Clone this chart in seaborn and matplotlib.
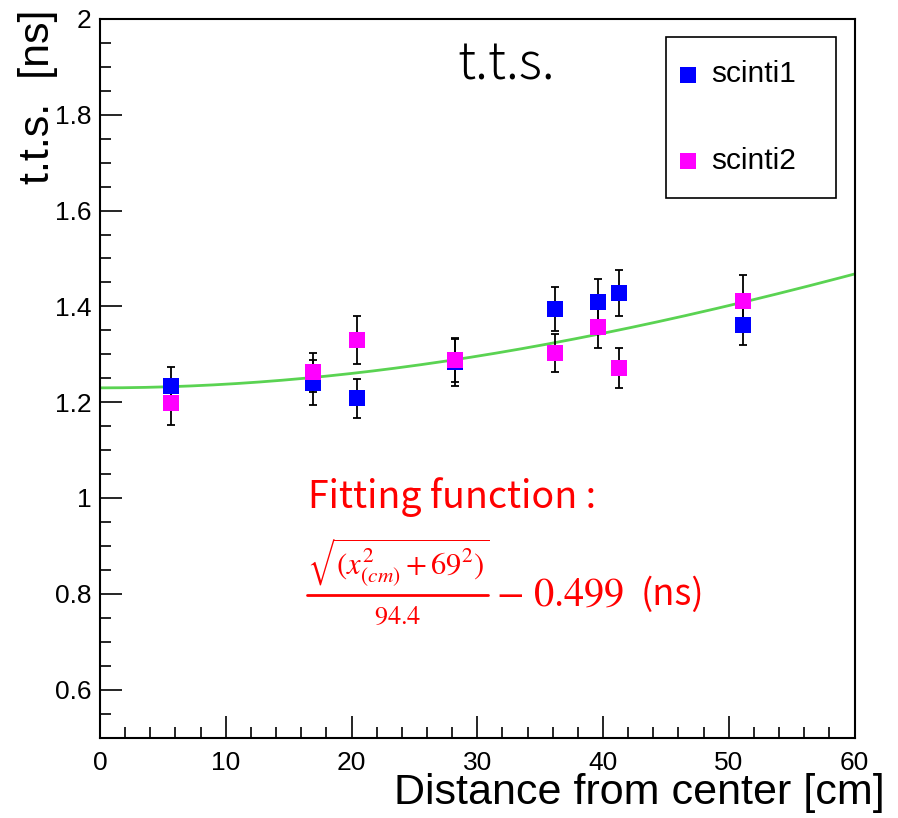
import numpy as np
import pandas as pd
import matplotlib
matplotlib.use("Agg")
import matplotlib.pyplot as plt
import seaborn as sns
from matplotlib.ticker import MultipleLocator, FixedLocator, FormatStrFormatter
from matplotlib.patches import Rectangle
from matplotlib.lines import Line2D

# measured points (distance [cm], t.t.s. [ns], error [ns])
dist1 = [5.65, 16.97, 20.4, 28.2, 36.2, 39.6, 41.3, 51.1]
tts1 = [1.233, 1.241, 1.208, 1.283, 1.395, 1.409, 1.428, 1.362]
err1 = [0.041, 0.047, 0.041, 0.049, 0.046, 0.048, 0.049, 0.043]

dist2 = [5.65, 16.97, 20.4, 28.2, 36.2, 39.6, 41.3, 51.1]
tts2 = [1.199, 1.262, 1.330, 1.288, 1.303, 1.356, 1.272, 1.412]
err2 = [0.046, 0.041, 0.050, 0.046, 0.040, 0.043, 0.042, 0.053]

# fit: sqrt(x^2 + 69^2)/94.4 + 0.499
fit_r0 = 69.0
fit_div = 94.4
fit_off = 0.499
fit_range = [0, 60]

df1 = pd.DataFrame({"dist": dist1, "tts": tts1, "err": err1})
df2 = pd.DataFrame({"dist": dist2, "tts": tts2, "err": err2})

sns.set_theme(style="white")
plt.rcParams['font.family'] = ['Liberation Sans', 'DejaVu Sans']
plt.rcParams['mathtext.fontset'] = 'stix'
plt.rcParams['text.color'] = 'black'

fig = plt.figure(figsize=(8.98, 8.18), dpi=100)
ax = fig.add_axes([0.1114, 0.0984, 0.9516 - 0.1114, 0.9768 - 0.0984])

# fit curve
xf = np.linspace(fit_range[0], fit_range[1], 300)
yf = np.sqrt(xf**2 + fit_r0**2) / fit_div + fit_off
sns.lineplot(x=xf, y=yf, ax=ax, color="#5ad352", lw=2, zorder=2)

# error bars
ax.errorbar(df1["dist"], df1["tts"], yerr=df1["err"], fmt="none", ecolor="black",
            elinewidth=1.3, capsize=3, capthick=1.3, zorder=3)
ax.errorbar(df2["dist"], df2["tts"], yerr=df2["err"], fmt="none", ecolor="black",
            elinewidth=1.3, capsize=3, capthick=1.3, zorder=3)

# markers
sns.scatterplot(data=df1, x="dist", y="tts", ax=ax, marker="s", s=130, color="#0000ff",
                linewidth=0, label="scinti1", zorder=4)
sns.scatterplot(data=df2, x="dist", y="tts", ax=ax, marker="s", s=130, color="#ff00ff",
                linewidth=0, label="scinti2", zorder=4)

ax.set_xlim(0, 60)
ax.set_ylim(0.5, 2)
ax.set_xlabel("")
ax.set_ylabel("")

ax.xaxis.set_major_locator(MultipleLocator(10))
ax.xaxis.set_minor_locator(MultipleLocator(2))
ax.yaxis.set_major_locator(FixedLocator([0.6, 0.8, 1.0, 1.2, 1.4, 1.6, 1.8, 2.0]))
ax.yaxis.set_minor_locator(MultipleLocator(0.05))
ax.yaxis.set_major_formatter(FormatStrFormatter("%g"))
ax.tick_params(which="both", direction="in", bottom=True, left=True, top=False, right=False,
               color="black", labelcolor="black", width=1.2, labelsize=19)
ax.tick_params(which="major", length=16)
ax.tick_params(which="minor", length=8)
ax.tick_params(axis="x", which="major", pad=10)
ax.tick_params(axis="y", which="major", pad=6)

for sp in ax.spines.values():
    sp.set_color("black")
    sp.set_linewidth(1.5)

# legend with square frame
leg = ax.legend(loc="center left", bbox_to_anchor=((666 - 100) / 754.5, 1 - (117.5 - 19) / 718.5),
                frameon=False, fontsize=21.5, handlelength=0.65, handletextpad=0.45,
                labelspacing=1.95, borderpad=0.4, borderaxespad=0)
ax.add_patch(Rectangle(((666 - 100) / 754.5, 1 - (198 - 19) / 718.5), 170 / 754.5, 161 / 718.5,
                       transform=ax.transAxes, fill=False, ec="black", lw=1.2, zorder=5))

# title
fig.text(506 / 898, 1 - 65 / 818, "t.t.s.", fontsize=37, ha="center", va="center",
         family=["Noto Sans CJK JP", "DejaVu Sans"], weight="light", color="black")

# axis titles
fig.text(885 / 898, 1 - 793 / 818, "Distance from center [cm]", fontsize=31,
         ha="right", va="center", color="black")
fig.text(38 / 898, 1 - 10 / 818, "t.t.s.  [ns]", fontsize=31, rotation=90,
         ha="center", va="top", color="black")

# fitting function annotation
fig.text(308 / 898, 1 - 497 / 818, "Fitting function :", fontsize=27, color="red",
         ha="left", va="center", family=["Noto Sans CJK JP", "DejaVu Sans"])
fig.text(398 / 898, 1 - 562 / 818, r"$\sqrt{(x^{2}_{(cm)}+69^{2})}$",
         fontsize=22, color="red", ha="center", va="center")
fig.add_artist(Line2D([307 / 898, 488 / 898], [1 - 595 / 818, 1 - 595 / 818],
                      transform=fig.transFigure, color="red", lw=2))
fig.text(398 / 898, 1 - 617 / 818, r"$94.4$", fontsize=19, color="red",
         ha="center", va="center")
fig.text(496 / 898, 1 - 595 / 818, r"$-\ 0.499$", fontsize=29, color="red",
         ha="left", va="center")
fig.text(641 / 898, 1 - 595 / 818, "(ns)", fontsize=26, color="red", ha="left", va="center",
         family=["Noto Sans CJK JP", "DejaVu Sans"])

fig.savefig("out.png", dpi=100)
